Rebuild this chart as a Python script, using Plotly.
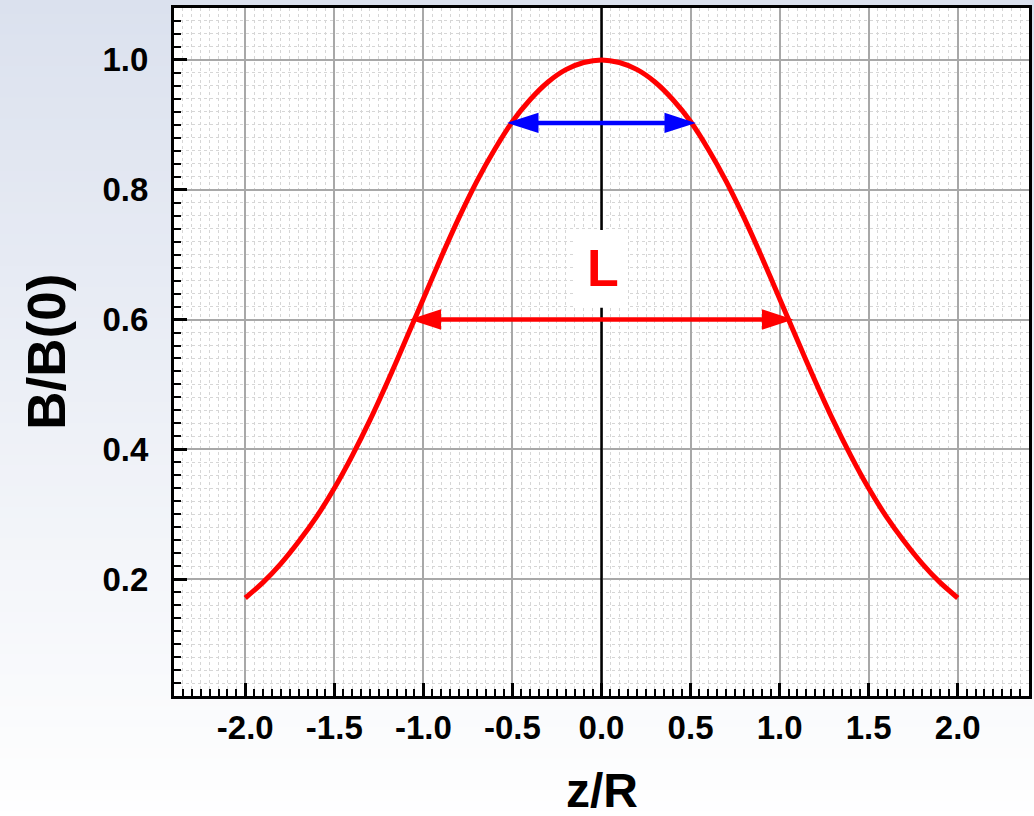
import plotly.graph_objects as go

# ---- data ----
z_vals = [-2.0, -1.9, -1.8, -1.7, -1.6, -1.5, -1.4, -1.3, -1.2, -1.1, -1.0,
          -0.9, -0.8, -0.7, -0.6, -0.5, -0.4, -0.3, -0.2, -0.1, 0.0,
          0.1, 0.2, 0.3, 0.4, 0.5, 0.6, 0.7, 0.8, 0.9, 1.0,
          1.1, 1.2, 1.3, 1.4, 1.5, 1.6, 1.7, 1.8, 1.9, 2.0]
b_vals = [0.171, 0.195, 0.224, 0.258, 0.296, 0.340, 0.390, 0.445, 0.505, 0.568, 0.632,
          0.696, 0.757, 0.813, 0.862, 0.905, 0.939, 0.966, 0.985, 0.996, 1.000,
          0.996, 0.985, 0.966, 0.939, 0.905, 0.862, 0.813, 0.757, 0.696, 0.632,
          0.568, 0.505, 0.445, 0.390, 0.340, 0.296, 0.258, 0.224, 0.195, 0.171]

x_ticks = [-2.0, -1.5, -1.0, -0.5, 0.0, 0.5, 1.0, 1.5, 2.0]
y_ticks = [0.2, 0.4, 0.6, 0.8, 1.0]

blue_arrow = {"x0": -0.53, "x1": 0.53, "y": 0.903}
red_arrow = {"x0": -1.077, "x1": 1.077, "y": 0.600}
label_L = {"text": "L", "x": 0.01, "y": 0.680}

FONT = "Liberation Sans, Arial, sans-serif"

fig = go.Figure()
fig.add_trace(go.Scatter(x=z_vals, y=b_vals, mode="lines",
                         line=dict(color="#ff0000", width=5, shape="spline", smoothing=0.8),
                         hoverinfo="skip", showlegend=False))

# double-headed arrows: shaft + triangular heads
inset = 0.07
for arr, col in ((blue_arrow, "#0000ff"), (red_arrow, "#ff0000")):
    fig.add_trace(go.Scatter(x=[arr["x0"] + inset, arr["x1"] - inset], y=[arr["y"], arr["y"]],
                             mode="lines", line=dict(color=col, width=4.5),
                             hoverinfo="skip", showlegend=False))
    fig.add_trace(go.Scatter(x=[arr["x0"], arr["x1"]], y=[arr["y"], arr["y"]],
                             mode="markers",
                             marker=dict(symbol="arrow", size=33, color=col,
                                         angle=[-90, 90], line=dict(width=0)),
                             hoverinfo="skip", showlegend=False))

shapes = []
# background gradient (paper)
n = 80
top = (219, 225, 238)
bot = (255, 255, 255)
for i in range(n):
    t = i / (n - 1)
    c = tuple(int(round(top[k] + (bot[k] - top[k]) * t)) for k in range(3))
    shapes.append(dict(type="rect", xref="paper", yref="paper",
                       x0=-0.3, x1=1.1,
                       y0=1.02 - (i + 1) * (1.22 / n), y1=1.02 - i * (1.22 / n) + 0.002,
                       fillcolor="rgb(%d,%d,%d)" % c, line=dict(width=0), layer="below"))
# white plot area
shapes.append(dict(type="rect", xref="paper", yref="paper", x0=0, x1=1, y0=0, y1=1,
                   fillcolor="white", line=dict(width=0), layer="below"))
# vertical line at z = 0
shapes.append(dict(type="line", xref="x", yref="y", x0=0, x1=0, y0=0.02, y1=1.08,
                   line=dict(color="black", width=2.5), layer="between"))
# white box behind the L label
shapes.append(dict(type="rect", xref="x", yref="y", x0=-0.155, x1=0.145, y0=0.618, y1=0.738,
                   fillcolor="white", line=dict(width=0), layer="between"))

annotations = []
annotations.append(dict(x=label_L["x"], y=label_L["y"], xref="x", yref="y",
                        text=label_L["text"], showarrow=False,
                        font=dict(family=FONT, size=52, color="#ff0000", weight="bold"),
                        xanchor="center", yanchor="middle"))
annotations.append(dict(x=0.5, y=-0.138, xref="paper", yref="paper", text="z/R",
                        showarrow=False, xanchor="center", yanchor="middle",
                        font=dict(family=FONT, size=48, color="black", weight="bold")))
annotations.append(dict(x=-0.150, y=0.5, xref="paper", yref="paper", text="B/B(0)",
                        showarrow=False, xanchor="center", yanchor="middle", textangle=-90,
                        font=dict(family=FONT, size=53, color="black", weight="bold")))

fig.update_layout(
    width=1034, height=816,
    margin=dict(l=174, r=2, t=8, b=120),
    paper_bgcolor="rgb(219,225,238)",
    plot_bgcolor="white",
    shapes=shapes,
    annotations=annotations,
    showlegend=False,
)

fig.update_xaxes(range=[-2.4, 2.4], tickvals=x_ticks, ticktext=["%.1f" % v for v in x_ticks],
                 showline=True, linecolor="black", linewidth=3, mirror=True,
                 ticks="inside", ticklen=13, tickwidth=2.5, tickcolor="black",
                 showgrid=True, gridcolor="#a8a8a8", gridwidth=1.5, zeroline=False,
                 tickfont=dict(family=FONT, size=33, color="black", weight="bold"),
                 ticklabelstandoff=0,
                 minor=dict(dtick=0.05, tick0=0, ticks="inside", ticklen=7, tickwidth=2,
                            tickcolor="black", showgrid=True, gridcolor="#d6d6d6",
                            griddash="dot", gridwidth=1))
fig.update_yaxes(range=[0.02, 1.08], tickvals=y_ticks, ticktext=["%.1f" % v for v in y_ticks],
                 showline=True, linecolor="black", linewidth=3, mirror=True,
                 ticks="inside", ticklen=13, tickwidth=2.5, tickcolor="black",
                 showgrid=True, gridcolor="#a8a8a8", gridwidth=1.5, zeroline=False,
                 tickfont=dict(family=FONT, size=33, color="black", weight="bold"),
                 ticklabelstandoff=16,
                 minor=dict(dtick=0.02, tick0=0, ticks="inside", ticklen=7, tickwidth=2,
                            tickcolor="black", showgrid=True, gridcolor="#d6d6d6",
                            griddash="dot", gridwidth=1))

fig.write_html("out.html")
